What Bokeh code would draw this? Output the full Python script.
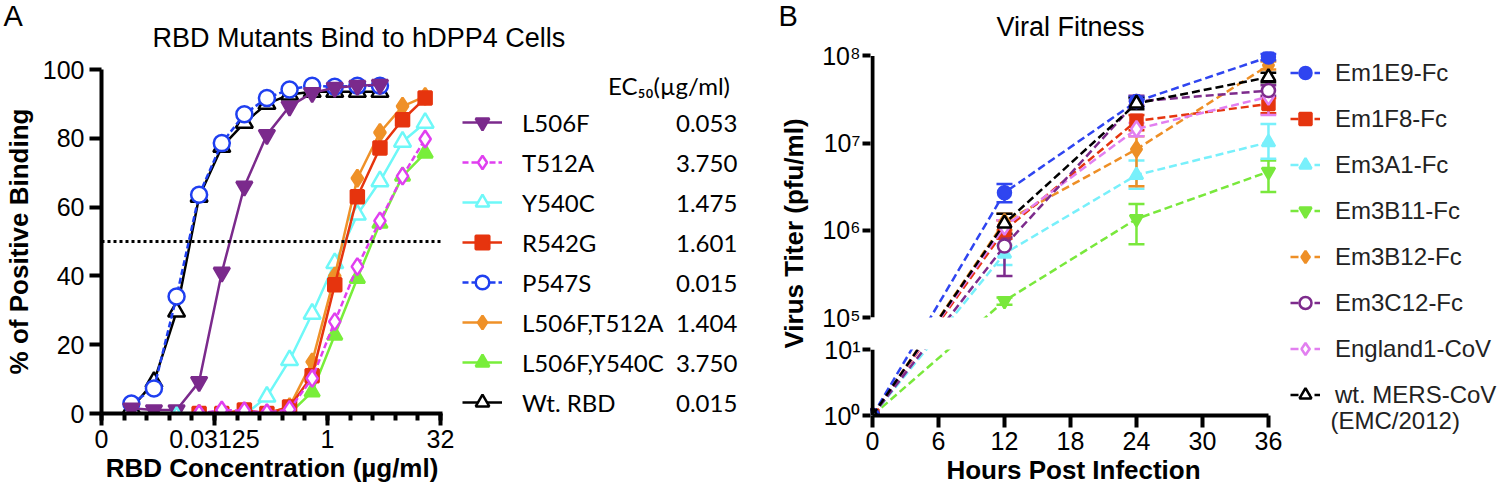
import numpy as np
from bokeh.plotting import figure
from bokeh.models import (Range1d, FixedTicker, Legend, LegendItem, Label, Span, Title,
                          BoxAnnotation, Whisker, TeeHead, ColumnDataSource)
from bokeh.layouts import row, column
from bokeh.embed import file_html
from bokeh.resources import INLINE

# ---------------- Panel A data (RBD binding, % positive) ----------------
conc_5 = [0.00244, 0.00488, 0.00977, 0.0195, 0.0391, 0.0781, 0.156, 0.3125, 0.625, 1.25, 2.5, 5.0]
conc_20 = [0.0195, 0.0391, 0.0781, 0.156, 0.3125, 0.625, 1.25, 2.5, 5.0, 10.0, 20.0]
conc_20b = [0.00977, 0.0195, 0.0391, 0.0781, 0.156, 0.3125, 0.625, 1.25, 2.5, 5.0, 10.0, 20.0]

l506f = [1.5, 1.0, 1.0, 9.2, 41.0, 66.0, 81.0, 89.3, 93.2, 94.7, 95.3, 95.6]
t512a = [0.0, 1.0, 0.8, 0.2, 1.2, 10.2, 26.7, 42.7, 56.0, 69.0, 79.8]
y540c = [-1.0, -1.0, -1.0, -0.5, 4.9, 15.5, 29.0, 43.7, 57.8, 67.5, 79.0, 84.5]
r542g = [0.0, 0.0, 1.0, 0.0, 1.9, 11.0, 37.4, 63.0, 77.2, 85.4, 91.7]
p547s = [2.9, 7.3, 34.0, 63.6, 78.6, 87.0, 91.7, 94.2, 95.3, 95.0, 95.3, 95.3]
l506f_t512a = [0.0, 0.0, 0.0, 0.0, 2.0, 15.0, 40.0, 68.4, 81.7, 89.3, 92.2]
l506f_y540c = [0.0, 0.0, 0.0, 0.0, 0.0, 6.3, 22.8, 39.3, 55.3, 69.0, 75.7]
wt_rbd = [1.5, 9.2, 29.6, 63.0, 77.5, 84.5, 90.0, 92.7, 93.5, 93.5, 93.5, 93.5]

a_names = ["L506F", "T512A", "Y540C", "R542G", "P547S", "L506F,T512A", "L506F,Y540C", "Wt. RBD"]
a_ec50 = ["0.053", "3.750", "1.475", "1.601", "0.015", "1.404", "3.750", "0.015"]
half_max = 50

xa_tick_vals = [2 ** -10, 2 ** -5, 1, 32]
xa_tick_labels = ["0", "0.03125", "1", "32"]
xa_minor = [2.0 ** k for k in range(-10, 6)]
ya_ticks = [0, 20, 40, 60, 80, 100]

# ---------------- Panel B data (virus titer, pfu/ml) ----------------
hours = [0, 12, 24, 36]
err_hours = [12, 24, 36]
em1e9 = [1, 2.7e6, 3.0e7, 9.7e7]
em1e9_lo = [2.1e6, 2.6e7, 8.9e7]
em1e9_hi = [3.4e6, 3.4e7, 1.05e8]
em1f8 = [1, 1.0e6, 1.8e7, 2.8e7]
em1f8_lo = [8.0e5, 1.4e7, 2.2e7]
em1f8_hi = [1.3e6, 2.1e7, 3.3e7]
em3a1 = [1, 5.4e5, 4.3e6, 1.02e7]
em3a1_lo = [4.0e5, 3.0e6, 6.6e6]
em3a1_hi = [6.8e5, 6.3e6, 1.66e7]
em3b11 = [1, 1.55e5, 1.35e6, 4.7e6]
em3b11_lo = [1.4e5, 6.9e5, 2.75e6]
em3b11_hi = [1.7e5, 2.0e6, 6.3e6]
em3b12 = [1, 1.25e6, 8.5e6, 7.8e7]
em3b12_lo = [1.0e6, 3.2e6, 7.0e7]
em3b12_hi = [1.55e6, 1.2e7, 8.6e7]
em3c12 = [1, 6.6e5, 3.0e7, 4.0e7]
em3c12_lo = [3.0e5, 2.7e7, 3.5e7]
em3c12_hi = [8.3e5, 3.5e7, 4.6e7]
england1 = [1, 1.1e6, 1.45e7, 3.4e7]
england1_lo = [9.0e5, 1.2e7, 2.1e7]
england1_hi = [1.3e6, 1.7e7, 4.0e7]
wt_mers = [1, 1.2e6, 2.85e7, 5.7e7]
wt_mers_lo = [9.1e5, 2.45e7, 5.0e7]
wt_mers_hi = [1.55e6, 3.3e7, 6.4e7]

xb_ticks = [0, 6, 12, 18, 24, 30, 36]
yb_tick_titers = [1, 10, 1e5, 1e6, 1e7, 1e8]
yb_tick_labels = ["10⁰", "10¹", "10⁵", "10⁶", "10⁷", "10⁸"]
yb_axis_lo = [1, 1e5]      # the two pieces of the broken y axis
yb_axis_hi = [10, 1e8]

# broken log axis: lower segment 10^0..10^1, upper segment 10^5..10^8 (units = pixels)
LOW_PX, GAP_PX, HIGH_PX = 66.0, 32.0, 87.2


def u_of(titer):
    lg = np.log10(np.asarray(titer, dtype=float))
    return np.where(lg <= 1, LOW_PX * lg, LOW_PX + GAP_PX + HIGH_PX * (lg - 5))


FONT = "Liberation Sans"


def style_axis(ax, minor=False):
    ax.axis_line_width = 4
    ax.axis_line_color = "black"
    ax.major_tick_line_width = 4
    ax.major_tick_line_color = "black"
    ax.major_tick_out = 12
    ax.major_tick_in = 0
    if minor:
        ax.minor_tick_line_width = 4
        ax.minor_tick_line_color = "black"
        ax.minor_tick_out = 7
        ax.minor_tick_in = 0
    else:
        ax.minor_tick_line_color = None
    ax.major_label_text_font = FONT
    ax.major_label_text_font_size = "25px"
    ax.major_label_text_color = "black"
    ax.axis_label_text_font = FONT
    ax.axis_label_text_font_size = "26px"
    ax.axis_label_text_font_style = "bold"
    ax.axis_label_text_color = "black"


def blank(width, height, rng=(0, 1), **kw):
    f = figure(width=width, height=height, title=None, x_axis_location=None, y_axis_location=None,
               x_range=Range1d(*rng), y_range=Range1d(*rng), output_backend="svg",
               toolbar_location=None, **kw)
    f.outline_line_color = None
    f.grid.visible = False
    return f


def txt(text, x, y, size, align="left", font=FONT, color="black"):
    return Label(x=x, y=y, x_units="screen", y_units="screen", text=text, text_font=font,
                 text_font_size=size, text_align=align, text_baseline="middle",
                 text_color=color, text_font_style="normal")


# ======================= Panel A =======================
BAND_A = 56
bandA = blank(776, BAND_A, min_border=0)
bandA.add_layout(txt("A", 3, BAND_A - 15, "29px"))
bandA.add_layout(txt("RBD Mutants Bind to hDPP4 Cells", 152, BAND_A - 37.5, "27px"))

pA = figure(width=460, height=494 - BAND_A, x_axis_type="log", title=None,
            x_range=Range1d(2 ** -10, 2 ** 5.09), y_range=Range1d(0, 100),
            output_backend="svg", toolbar_location=None,
            min_border_left=100, min_border_right=18, min_border_top=69 - BAND_A,
            min_border_bottom=81)
pA.outline_line_color = None
pA.grid.visible = False

xa = pA.xaxis[0]
xa.ticker = FixedTicker(ticks=xa_tick_vals, minor_ticks=xa_minor)
xa.major_label_overrides = dict(zip(xa_tick_vals, xa_tick_labels))
style_axis(xa, minor=True)
xa.major_label_standoff = 4
xa.axis_label = "RBD Concentration (µg/ml)"
xa.axis_label_standoff = 2
ya = pA.yaxis[0]
ya.ticker = FixedTicker(ticks=ya_ticks)
style_axis(ya)
ya.major_label_standoff = 5
ya.axis_label = "% of Positive Binding"
ya.axis_label_standoff = 6

pA.add_layout(Span(location=half_max, dimension="width", line_color="black",
                   line_width=3, line_dash="3 3"))

a_series = [
    # name, x, y, color, marker, size, filled, dashed
    ("Wt. RBD", conc_5, wt_rbd, "#000000", "triangle", 17, False, False),
    ("P547S", conc_5, p547s, "#1f3ff0", "circle", 16, False, True),
    ("L506F", conc_5, l506f, "#7b2a8c", "inverted_triangle", 16, True, False),
    ("L506F,Y540C", conc_20, l506f_y540c, "#78ee3a", "triangle", 15, True, False),
    ("Y540C", conc_20b, y540c, "#6ef8f8", "triangle", 17, False, False),
    ("L506F,T512A", conc_20, l506f_t512a, "#ef9128", "diamond", 17, True, False),
    ("R542G", conc_20, r542g, "#e6340e", "square", 13, True, False),
    ("T512A", conc_20, t512a, "#e03ff0", "diamond", 17, False, True),
]
# legend panel (own frame = whole canvas); its ranges exclude every data point,
# so only the legend swatches show
legA_fig = blank(316, 494 - BAND_A, rng=(-10, -9), min_border=0)
a_leg_rend = {}
for name, xs, ys, col, mk, sz, filled, dashed in a_series:
    kw_line = dict(line_color=col, line_width=2.5, line_dash="6 3" if dashed else "solid")
    kw_mark = dict(marker=mk, size=sz, line_color=col, line_width=2.5,
                   fill_color=col if filled else "white")
    pA.line(xs, ys, **kw_line)
    pA.scatter(xs, ys, **kw_mark)
    a_leg_rend[name] = [legA_fig.line(xs, ys, **kw_line), legA_fig.scatter(xs, ys, **kw_mark)]
ghostA = legA_fig.scatter(x=[], y=[], alpha=0)

leg_a_vy = 494 - 419
legA = Legend(items=[LegendItem(label=n, renderers=a_leg_rend[n]) for n in a_names],
              location=(2, leg_a_vy), glyph_width=40, glyph_height=34, label_height=34,
              spacing=6, padding=0, margin=0, label_standoff=20,
              label_text_font="Lato", label_text_font_size="24px", label_text_color="black",
              border_line_color=None, background_fill_alpha=0)
legA_fig.add_layout(legA)
legV = Legend(items=[LegendItem(label=v, renderers=[ghostA]) for v in a_ec50],
              title="EC₅₀(µg/ml)", title_text_font="Lato", title_text_font_size="24px",
              title_text_font_style="normal", title_text_color="black", title_standoff=5,
              location=(148, leg_a_vy), glyph_width=60, glyph_height=34, label_height=34,
              spacing=6, padding=0, margin=0, label_standoff=8,
              label_text_font="Lato", label_text_font_size="24px", label_text_color="black",
              border_line_color=None, background_fill_alpha=0)
legA_fig.add_layout(legV)

# ======================= Panel B =======================
bandB = blank(736, 40, min_border=0)
bandB.add_layout(txt("B", 2, 25, "29px"))
bandB.add_layout(txt("Viral Fitness", 294, 14, "27px", align="center"))

pB = figure(width=510, height=454, x_range=Range1d(-0.18, 36.73), y_range=Range1d(0, 364),
            title=None, output_backend="svg", toolbar_location=None,
            min_border_left=94, min_border_right=10, min_border_top=11, min_border_bottom=79)
pB.outline_line_color = None
pB.grid.visible = False

xb = pB.xaxis[0]
xb.ticker = FixedTicker(ticks=xb_ticks)
xb.bounds = (0, 36)
style_axis(xb)
xb.major_label_standoff = 4
xb.axis_label = "Hours Post Infection"
xb.axis_label_standoff = 2
yb = pB.yaxis[0]
yb_tick_u = [float(v) for v in u_of(yb_tick_titers)]
yb.ticker = FixedTicker(ticks=yb_tick_u)
yb.major_label_overrides = dict(zip(yb_tick_u, yb_tick_labels))
style_axis(yb)
yb.axis_line_color = None          # drawn below as two broken pieces
yb.major_tick_out = 8
yb.major_label_standoff = 2
yb.axis_label = "Virus Titer (pfu/ml)"
yb.axis_label_standoff = 10

b_series = [
    # name, values, lo, hi, color, marker, size, filled
    ("Em3B11-Fc", em3b11, em3b11_lo, em3b11_hi, "#79e83c", "inverted_triangle", 13, True),
    ("Em3A1-Fc", em3a1, em3a1_lo, em3a1_hi, "#78f0fb", "triangle", 13, True),
    ("Em3B12-Fc", em3b12, em3b12_lo, em3b12_hi, "#ee8f26", "diamond", 16, True),
    ("Em1F8-Fc", em1f8, em1f8_lo, em1f8_hi, "#e5350f", "square", 12, True),
    ("England1-CoV", england1, england1_lo, england1_hi, "#e27ff0", "diamond", 16, False),
    ("Em3C12-Fc", em3c12, em3c12_lo, em3c12_hi, "#7d2b8c", "circle", 13, False),
    ("Em1E9-Fc", em1e9, em1e9_lo, em1e9_hi, "#2f45f0", "circle", 13, True),
    ("wt. MERS-CoV", wt_mers, wt_mers_lo, wt_mers_hi, "#000000", "triangle", 14, False),
]
b_order = ["Em1E9-Fc", "Em1F8-Fc", "Em3A1-Fc", "Em3B11-Fc", "Em3B12-Fc",
           "Em3C12-Fc", "England1-CoV", "wt. MERS-CoV"]
legB_fig = blank(226, 454, rng=(-10, -9), min_border_left=0, min_border_right=0,
                 min_border_top=11, min_border_bottom=79)
b_leg_rend = {}
for name, vals, lo, hi, col, mk, sz, filled in b_series:
    src = ColumnDataSource(dict(h=err_hours, lo=u_of(lo), hi=u_of(hi)))
    pB.add_layout(Whisker(base="h", lower="lo", upper="hi", source=src, dimension="height",
                          line_color=col, line_width=2.5,
                          upper_head=TeeHead(size=16, line_color=col, line_width=2.5),
                          lower_head=TeeHead(size=16, line_color=col, line_width=2.5)))
    uv = u_of(vals)
    kw_line = dict(line_color=col, line_width=2.5, line_dash="8 4")
    kw_mark = dict(marker=mk, size=sz, line_color=col, line_width=2.5,
                   fill_color=col if filled else "white")
    pB.line(hours, uv, **kw_line)
    pB.scatter(hours, uv, **kw_mark)
    b_leg_rend[name] = [legB_fig.line(hours, uv, **kw_line),
                        legB_fig.scatter(hours, uv, **kw_mark)]

# white band hiding the data lines across the axis break
pB.add_layout(BoxAnnotation(bottom=LOW_PX, top=LOW_PX + GAP_PX,
                            fill_color="white", fill_alpha=1.0, line_color=None))
# the two pieces of the broken y axis line
pB.segment(x0=[0, 0], x1=[0, 0], y0=u_of(yb_axis_lo), y1=u_of(yb_axis_hi),
           line_color="black", line_width=4)

legB = Legend(items=[LegendItem(label=n, renderers=b_leg_rend[n]) for n in b_order],
              location=(4, 5), glyph_width=30, glyph_height=31, label_height=31,
              spacing=15, padding=0, margin=0, label_standoff=15,
              label_text_font=FONT, label_text_font_size="24px", label_text_color="#222222",
              border_line_color=None, background_fill_alpha=0)
legB_fig.add_layout(legB)
legB_fig.add_layout(Title(text="(EMC/2012)", align="left", offset=44, vertical_align="top",
                          standoff=-18, text_font=FONT, text_font_size="24px",
                          text_font_style="normal", text_color="#222222"), "below")

# the legend panel of A sits in its own column so that its frame is not aligned with pA's
layout = row(column(bandA, row(pA, column(legA_fig))), column(bandB, row(pB, legB_fig)))
open("out.html", "w").write(file_html(layout, INLINE))
